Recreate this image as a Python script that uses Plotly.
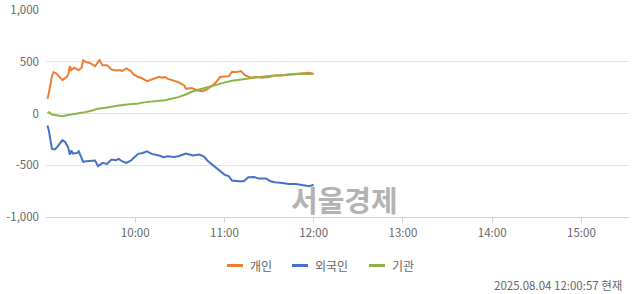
import plotly.graph_objects as go

DATE = "2025-08-04"

# 개인 (individuals)
indiv_min = [1, 2, 4, 5, 7, 11, 14, 15, 16, 17, 19, 22, 24, 25, 27, 30, 33, 36, 38, 41, 44, 47, 50, 51, 54, 57,
             59, 62, 64, 68, 71, 76, 78, 80, 82, 86, 89, 93, 94, 98, 102, 105, 108, 112, 115, 117, 121, 123, 125,
             128, 131, 134, 138, 141, 145, 150, 154, 159, 163, 168, 172, 177, 180]
indiv_val = [142, 200, 361, 400, 387, 323, 355, 377, 458, 420, 442, 420, 442, 513, 497, 484, 458, 516, 465, 465,
             426, 416, 420, 410, 435, 410, 377, 352, 345, 313, 329, 355, 345, 352, 335, 319, 303, 271, 239, 245,
             223, 216, 232, 271, 313, 352, 355, 361, 403, 400, 410, 368, 345, 355, 345, 352, 368, 368, 377, 384,
             387, 394, 381]

# 외국인 (foreigners)
foreign_min = [1, 2, 4, 6, 8, 11, 13, 15, 16, 17, 18, 21, 22, 25, 27, 31, 33, 35, 38, 41, 44, 47, 49, 51, 54,
               57, 60, 62, 65, 68, 71, 76, 79, 82, 86, 89, 94, 96, 99, 103, 106, 109, 113, 116, 120, 123, 125,
               130, 133, 136, 140, 143, 148, 151, 154, 159, 163, 168, 172, 177, 180]
foreign_val = [-116, -171, -342, -348, -316, -258, -277, -332, -397, -358, -387, -381, -365, -468, -461, -455,
               -455, -510, -477, -487, -445, -452, -439, -461, -477, -455, -413, -390, -381, -365, -390, -406,
               -423, -413, -419, -413, -387, -397, -406, -397, -413, -461, -510, -542, -590, -606, -648, -655,
               -655, -616, -613, -629, -629, -655, -665, -671, -681, -681, -694, -703, -687]

# 기관 (institutions)
inst_min = [1, 2, 4, 7, 11, 14, 17, 22, 26, 31, 35, 40, 44, 49, 53, 58, 62, 67, 71, 76, 80, 85, 89, 94, 98, 103,
            107, 112, 116, 121, 125, 130, 134, 139, 143, 148, 152, 157, 161, 166, 170, 175, 179]
inst_val = [6, 13, -10, -19, -26, -16, -10, 0, 13, 29, 45, 55, 68, 77, 84, 90, 97, 110, 116, 119, 129, 145, 158,
            184, 210, 232, 248, 271, 290, 303, 316, 326, 335, 345, 355, 361, 365, 371, 374, 377, 381, 384, 381]

series_names = ["개인", "외국인", "기관"]
series_colors = ["#ed7d31", "#4472c4", "#8db44a"]

x_ticks = ["10:00", "11:00", "12:00", "13:00", "14:00", "15:00"]
y_ticks = [-1000, -500, 0, 500, 1000]
y_labels = ["-1,000", "-500", "0", "500", "1,000"]


def to_ts(minutes):
    out = []
    for m in minutes:
        h = 9 + m // 60
        mm = m % 60
        out.append(f"{DATE} {h:02d}:{mm:02d}")
    return out


FONT = "Noto Sans CJK KR, Noto Sans, sans-serif"
GRAY = "#666666"

W, H = 640, 294
ML, MR, MT, MB = 46, 11, 10, 77
PW, PH = W - ML - MR, H - MT - MB


def px(x):
    return (x - ML) / PW


def py(y):
    return (H - MB - y) / PH


fig = go.Figure()
data = [(indiv_min, indiv_val), (foreign_min, foreign_val), (inst_min, inst_val)]
for (mins, vals), name, color in zip(data, series_names, series_colors):
    fig.add_trace(go.Scatter(x=to_ts(mins), y=vals, name=name, mode="lines",
                             line=dict(color=color, width=2), showlegend=False))

# custom legend (short line swatches like the reference)
legend_x = [227, 292, 369]
shapes = []
annotations = []
for lx, name, color in zip(legend_x, series_names, series_colors):
    shapes.append(dict(type="line", xref="paper", yref="paper", x0=px(lx), x1=px(lx + 16),
                       y0=py(265.5), y1=py(265.5), line=dict(color=color, width=3)))
    annotations.append(dict(text=name, xref="paper", yref="paper", x=px(lx + 21), y=py(265.5),
                            xanchor="left", yanchor="middle", showarrow=False,
                            font=dict(family=FONT, size=12, color=GRAY)))

annotations.append(dict(text="<b>서울경제</b>", xref="paper", yref="paper", x=px(344), y=py(199),
                        xanchor="center", yanchor="middle", showarrow=False,
                        font=dict(family=FONT, size=29, color="#b3b3b3")))
annotations.append(dict(text="2025.08.04 12:00:57 현재", xref="paper", yref="paper", x=px(624), y=py(285),
                        xanchor="right", yanchor="middle", showarrow=False,
                        font=dict(family=FONT, size=11.5, color=GRAY)))

fig.update_layout(
    width=W, height=H,
    margin=dict(l=ML, r=MR, t=MT, b=MB, autoexpand=False),
    paper_bgcolor="white", plot_bgcolor="white",
    font=dict(family=FONT, size=11, color=GRAY),
    showlegend=False,
    xaxis=dict(
        type="date",
        range=[f"{DATE} 09:00", f"{DATE} 15:32"],
        tickvals=[f"{DATE} {t}" for t in x_ticks],
        ticktext=x_ticks,
        showgrid=False,
        showline=True, linecolor="#c5d3e8", linewidth=1,
        ticks="outside", ticklen=5, tickcolor="#c5d3e8",
        tickfont=dict(family=FONT, size=11.5, color=GRAY),
        zeroline=False,
    ),
    yaxis=dict(
        range=[-1000, 1000],
        tickvals=y_ticks, ticktext=y_labels,
        showgrid=True, gridcolor="#e3e3e3", gridwidth=1,
        zeroline=False, showline=False,
        ticks="", ticklabelstandoff=6,
        tickfont=dict(family=FONT, size=11.5, color=GRAY),
    ),
    shapes=shapes,
    annotations=annotations,
)

fig.write_html("out.html")
